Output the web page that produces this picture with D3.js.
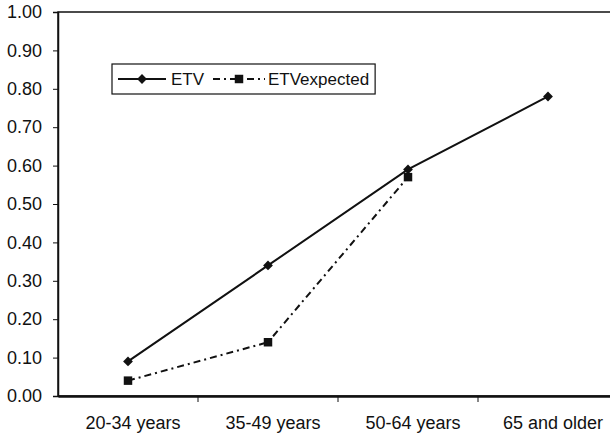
<!DOCTYPE html>
<html><head><meta charset="utf-8">
<script src="https://cdn.jsdelivr.net/npm/d3@7"></script>
<style>body{margin:0;background:#fff}svg{display:block}text{font-family:"Liberation Sans",Arial,sans-serif;fill:#111}</style>
</head><body>
<svg id="c" width="610" height="433"></svg>
<script>
const categories = ["20-34 years","35-49 years","50-64 years","65 and older"];
const etv = [0.09, 0.34, 0.59, 0.78];
const etvExpected = [0.04, 0.14, 0.57, null];
const yTicks = [0,0.1,0.2,0.3,0.4,0.5,0.6,0.7,0.8,0.9,1.0];
const seriesNames = ["ETV","ETVexpected"];

const svg = d3.select("#c");
const L=58, R=618, T=12, B=396;
const x = d3.scaleBand().domain(categories).range([L,R]).padding(0);
const y = d3.scaleLinear().domain([0,1]).range([B,T]);
const cx = c => x(c)+x.bandwidth()/2;
const col="#111";

// plot border
svg.append("rect").attr("x",L).attr("y",T).attr("width",R-L).attr("height",B-T)
  .attr("fill","none").attr("stroke",col).attr("stroke-width",1.5);

// y axis
const ya = svg.append("g").attr("transform",`translate(${L},0)`)
  .call(d3.axisLeft(y).tickValues(yTicks).tickFormat(d3.format(".2f")).tickSize(5).tickPadding(11));
ya.select(".domain").attr("stroke",col).attr("stroke-width",1.5);
ya.selectAll(".tick line").attr("stroke",col);
ya.selectAll("text").attr("font-size",18).style("fill",col);

// x axis
const xa = svg.append("g").attr("transform",`translate(0,${B})`)
  .call(d3.axisBottom(x).tickSize(0).tickPadding(20));
xa.select(".domain").attr("stroke",col).attr("stroke-width",2.5);
xa.selectAll("text").attr("font-size",18).attr("dx",5).style("fill",col);
// category boundary ticks
svg.append("g").selectAll("line").data(categories.slice(1)).join("line")
  .attr("x1",d=>x(d)).attr("x2",d=>x(d)).attr("y1",B).attr("y2",B+6)
  .attr("stroke",col).attr("stroke-width",1);

// lines
const line = d3.line().defined(d=>d.v!=null).x(d=>cx(d.c)).y(d=>y(d.v));
const d1 = categories.map((c,i)=>({c,v:etv[i]}));
const d2 = categories.map((c,i)=>({c,v:etvExpected[i]}));
const dash = "7,4,2,4";
svg.append("path").attr("d",line(d1)).attr("fill","none").attr("stroke",col).attr("stroke-width",2);
svg.append("path").attr("d",line(d2)).attr("fill","none").attr("stroke",col).attr("stroke-width",2)
  .attr("stroke-dasharray",dash);

const square = d3.symbol().type(d3.symbolSquare).size(72);
const diamond = d3.symbol().type(d3.symbolSquare).size(48);
svg.append("g").selectAll("path").data(d2.filter(d=>d.v!=null)).join("path")
  .attr("d",square).attr("transform",d=>`translate(${cx(d.c)},${y(d.v)})`).attr("fill",col);
svg.append("g").selectAll("path").data(d1).join("path")
  .attr("d",diamond).attr("transform",d=>`translate(${cx(d.c)},${y(d.v)}) rotate(45)`).attr("fill",col);

// legend
const lg = svg.append("g");
const box = lg.append("rect").attr("x",112).attr("y",64).attr("height",30)
  .attr("fill","#fff").attr("stroke",col).attr("stroke-width",1.2);
const ly=79;
lg.append("line").attr("x1",118).attr("x2",166).attr("y1",ly).attr("y2",ly).attr("stroke",col).attr("stroke-width",2);
lg.append("path").attr("d",diamond).attr("transform",`translate(142,${ly}) rotate(45)`).attr("fill",col);
lg.append("text").attr("x",171).attr("y",ly+6).attr("font-size",17).text(seriesNames[0]);
lg.append("line").attr("x1",213).attr("x2",265).attr("y1",ly).attr("y2",ly).attr("stroke",col).attr("stroke-width",2).attr("stroke-dasharray",dash);
lg.append("path").attr("d",square).attr("transform",`translate(239,${ly})`).attr("fill",col);
const t2 = lg.append("text").attr("x",268).attr("y",ly+6).attr("font-size",17).text(seriesNames[1]);
const bb = t2.node().getBBox();
box.attr("width", bb.x+bb.width+6-112);
</script>
</body></html>
